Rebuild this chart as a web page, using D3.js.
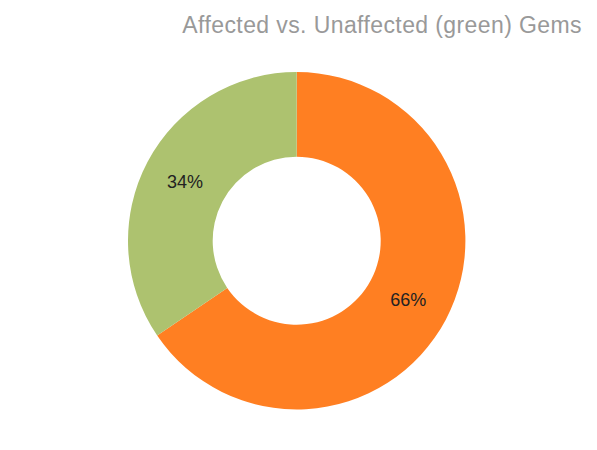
<!DOCTYPE html>
<html>
<head>
<meta charset="utf-8">
<script src="https://cdn.jsdelivr.net/npm/d3@7"></script>
<style>
html,body{margin:0;padding:0;background:#fff;}
svg{display:block;}
</style>
</head>
<body>
<svg id="chart" width="597" height="450"></svg>
<script>
const categories = ["Affected", "Unaffected"];
const values = [65.5, 34.5];
const percentLabels = ["66%", "34%"];
const colors = ["#FF7F22", "#ADC26F"];
const title = "Affected vs. Unaffected (green) Gems";

const svg = d3.select("#chart");
const cx = 296.7, cy = 240.7, outerR = 168.7, innerR = 84;

svg.append("text")
  .attr("x", 582).attr("y", 33)
  .attr("text-anchor", "end")
  .attr("font-family", "'Liberation Sans', Arial, sans-serif")
  .attr("font-size", 23)
  .attr("letter-spacing", 0.4)
  .attr("fill", "#999")
  .text(title);

const pie = d3.pie().sort(null).value(d => d.value);
const data = categories.map((c, i) => ({cat: c, value: values[i], color: colors[i], label: percentLabels[i]}));
const arcs = pie(data);
const arc = d3.arc().innerRadius(innerR).outerRadius(outerR);

const g = svg.append("g").attr("transform", `translate(${cx},${cy})`);
g.selectAll("path").data(arcs).enter().append("path")
  .attr("d", arc)
  .attr("fill", d => d.data.color);

g.selectAll("text.lbl").data(arcs).enter().append("text")
  .attr("class", "lbl")
  .attr("transform", d => `translate(${arc.centroid(d)})`)
  .attr("text-anchor", "middle")
  .attr("dy", "0.35em")
  .attr("font-family", "'Liberation Sans', Arial, sans-serif")
  .attr("font-size", 18)
  .attr("fill", "#222")
  .text(d => d.data.label);
</script>
</body>
</html>
